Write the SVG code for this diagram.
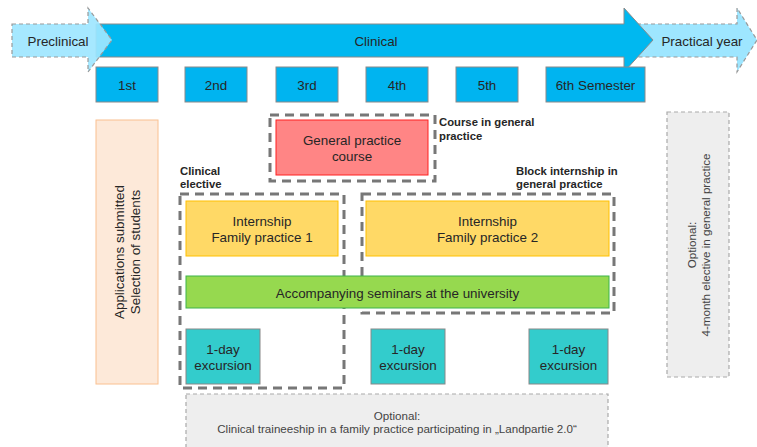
<svg xmlns="http://www.w3.org/2000/svg" width="757" height="447" viewBox="0 0 757 447">
<style>
text{font-family:"Liberation Sans",Arial,sans-serif;font-size:13.4px;fill:#262626;text-anchor:middle;dominant-baseline:central}
.lbl{font-weight:bold;font-size:11.3px;text-anchor:start}
.sem{fill:#00b4f0;stroke:#8a8a8a;stroke-width:1}
.light{fill:#9ee6ff;stroke:#999;stroke-width:1.2;stroke-dasharray:4 3}
.grp{fill:none;stroke:#777;stroke-width:3;stroke-dasharray:9 6}
.intern{fill:#ffd966;stroke:#ffc000;stroke-width:1}
.exc{fill:#33cccc;stroke:#888;stroke-width:1}
.opt{fill:#eeeeee;stroke:#aaa;stroke-width:1.2;stroke-dasharray:4 3}
.small{font-size:11.6px;fill:#444}
</style>
<g id="practical-year">
<polygon class="light" points="637,24 737,24 737,8 757,40 737,72 737,57 637,57"/>
<text x="702" y="41">Practical year</text>
</g>
<g id="clinical">
<polygon points="96,24 624,24 624,8 653,40 624,72 624,57 96,57" fill="#00b8f0" stroke="#8a8a8a" stroke-width="1"/>
<text x="376" y="41">Clinical</text>
</g>
<g id="preclinical">
<polygon class="light" points="12,24 88,24 88,8 112,40 88,72 88,57 12,57" fill-opacity="0.92"/>
<text x="58" y="41">Preclinical</text>
</g>
<g id="sem1"><rect class="sem" x="96" y="67" width="62" height="35"/><text x="127" y="85">1st</text></g>
<g id="sem2"><rect class="sem" x="185" y="67" width="62" height="35"/><text x="216" y="85">2nd</text></g>
<g id="sem3"><rect class="sem" x="276" y="67" width="62" height="35"/><text x="307" y="85">3rd</text></g>
<g id="sem4"><rect class="sem" x="366" y="67" width="62" height="35"/><text x="397" y="85">4th</text></g>
<g id="sem5"><rect class="sem" x="456" y="67" width="62" height="35"/><text x="487" y="85">5th</text></g>
<g id="sem6"><rect class="sem" x="546" y="67" width="99" height="35"/><text x="595.5" y="85">6th Semester</text></g>
<g id="applications">
<rect x="96" y="120" width="62" height="264" fill="#fde9d9" stroke="#fac090" stroke-width="1"/>
<text transform="translate(127 252) rotate(-90)"><tspan x="0" y="-8">Applications submitted</tspan><tspan x="0" y="8">Selection of students</tspan></text>
</g>
<g id="course-group">
<rect class="grp" x="270" y="115" width="165" height="66"/>
<text class="lbl" x="439" y="122">Course in general</text>
<text class="lbl" x="439" y="136">practice</text>
</g>
<g id="gp-course">
<rect x="276" y="120" width="152" height="55" fill="#ff8585" stroke="#ff2020" stroke-width="1"/>
<text x="352" y="140">General practice</text>
<text x="352" y="156">course</text>
</g>
<g id="clinical-elective">
<rect class="grp" x="180" y="194" width="164" height="194"/>
<text class="lbl" x="180" y="171">Clinical</text>
<text class="lbl" x="180" y="184">elective</text>
</g>
<g id="block-internship">
<rect class="grp" x="362" y="194" width="252" height="119"/>
<text class="lbl" x="516" y="171">Block internship in</text>
<text class="lbl" x="516" y="184">general practice</text>
</g>
<g id="internship1">
<rect class="intern" x="186" y="201" width="152" height="55"/>
<text x="262" y="221">Internship</text>
<text x="262" y="237">Family practice 1</text>
</g>
<g id="internship2">
<rect class="intern" x="366" y="201" width="243" height="55"/>
<text x="487.5" y="221">Internship</text>
<text x="487.5" y="237">Family practice 2</text>
</g>
<g id="seminars">
<rect x="186" y="276" width="423" height="32" fill="#96d94f" stroke="#3cb34a" stroke-width="1"/>
<text x="397.5" y="293">Accompanying seminars at the university</text>
</g>
<g id="excursion1"><rect class="exc" x="186" y="329" width="74" height="55"/><text x="223" y="349">1-day</text><text x="223" y="365">excursion</text></g>
<g id="excursion2"><rect class="exc" x="371" y="329" width="74" height="55"/><text x="408" y="349">1-day</text><text x="408" y="365">excursion</text></g>
<g id="excursion3"><rect class="exc" x="529" y="329" width="79" height="55"/><text x="568.5" y="349">1-day</text><text x="568.5" y="365">excursion</text></g>
<g id="optional-traineeship">
<rect class="opt" x="186" y="394" width="422" height="60"/>
<text class="small" x="397" y="415">Optional:</text>
<text class="small" x="397" y="428">Clinical traineeship in a family practice participating in „Landpartie 2.0“</text>
</g>
<g id="optional-elective">
<rect class="opt" x="667" y="112" width="62" height="265"/>
<text class="small" transform="translate(698 245) rotate(-90)"><tspan x="0" y="-7">Optional:</tspan><tspan x="0" y="7">4-month elective in general  practice</tspan></text>
</g>
<g id="connectors"></g>
</svg>
